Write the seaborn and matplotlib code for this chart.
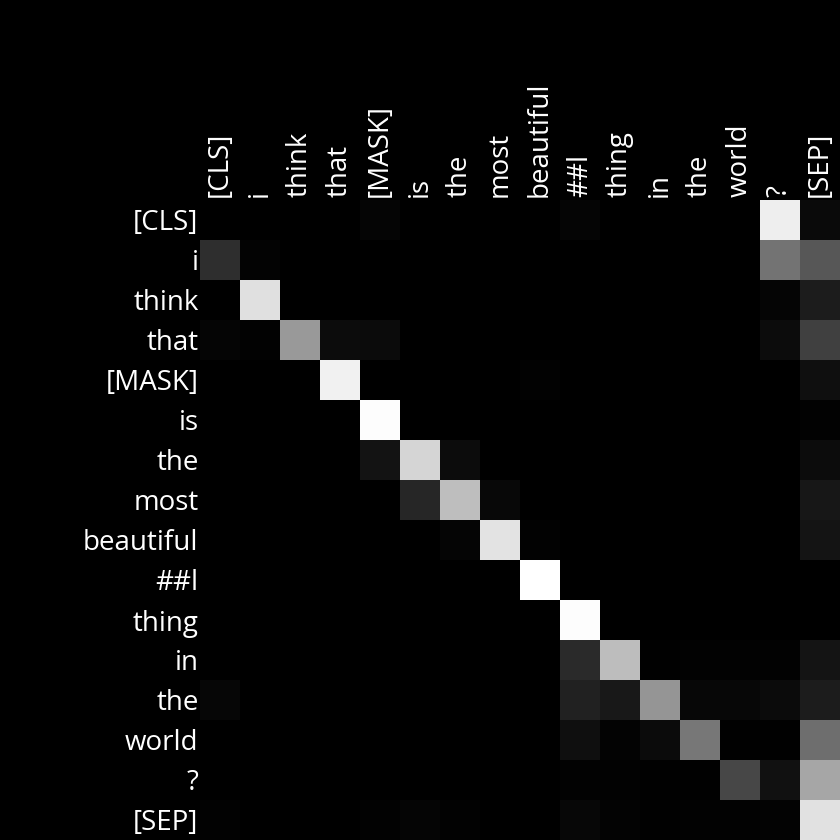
import numpy as np
import pandas as pd
import matplotlib
matplotlib.use("Agg")
import matplotlib.pyplot as plt
import seaborn as sns

# tokens of the sentence (rows = query, cols = key)
TOKENS = ["[CLS]", "i", "think", "that", "[MASK]", "is", "the", "most",
          "beautiful", "##l", "thing", "in", "the", "world", "?", "[SEP]"]

# attention weights
ROW_CLS       = [0.00, 0.00, 0.00, 0.00, 0.02, 0.00, 0.00, 0.00, 0.00, 0.02, 0.00, 0.00, 0.00, 0.00, 0.93, 0.04]
ROW_I         = [0.18, 0.015, 0.00, 0.00, 0.00, 0.00, 0.00, 0.00, 0.00, 0.00, 0.00, 0.00, 0.00, 0.00, 0.45, 0.34]
ROW_THINK     = [0.00, 0.875, 0.00, 0.00, 0.00, 0.00, 0.00, 0.00, 0.00, 0.00, 0.00, 0.00, 0.00, 0.00, 0.02, 0.11]
ROW_THAT      = [0.02, 0.01, 0.60, 0.05, 0.045, 0.00, 0.00, 0.00, 0.00, 0.00, 0.00, 0.00, 0.00, 0.00, 0.05, 0.25]
ROW_MASK      = [0.00, 0.00, 0.00, 0.945, 0.00, 0.00, 0.00, 0.00, 0.01, 0.00, 0.00, 0.00, 0.00, 0.00, 0.00, 0.06]
ROW_IS        = [0.00, 0.00, 0.00, 0.00, 0.99, 0.00, 0.00, 0.00, 0.00, 0.00, 0.00, 0.00, 0.00, 0.00, 0.00, 0.01]
ROW_THE1      = [0.00, 0.00, 0.00, 0.00, 0.075, 0.835, 0.05, 0.00, 0.00, 0.00, 0.00, 0.00, 0.00, 0.00, 0.00, 0.05]
ROW_MOST      = [0.00, 0.00, 0.00, 0.00, 0.00, 0.15, 0.745, 0.035, 0.00, 0.00, 0.00, 0.00, 0.00, 0.00, 0.00, 0.09]
ROW_BEAUTIFUL = [0.00, 0.00, 0.00, 0.00, 0.00, 0.00, 0.02, 0.89, 0.01, 0.00, 0.00, 0.00, 0.00, 0.00, 0.00, 0.08]
ROW_L         = [0.00, 0.00, 0.00, 0.00, 0.00, 0.00, 0.00, 0.00, 1.00, 0.00, 0.00, 0.00, 0.00, 0.00, 0.00, 0.00]
ROW_THING     = [0.00, 0.00, 0.00, 0.00, 0.00, 0.00, 0.00, 0.00, 0.00, 0.99, 0.00, 0.00, 0.00, 0.00, 0.00, 0.00]
ROW_IN        = [0.00, 0.00, 0.00, 0.00, 0.00, 0.00, 0.00, 0.00, 0.00, 0.165, 0.74, 0.005, 0.01, 0.01, 0.01, 0.08]
ROW_THE2      = [0.025, 0.00, 0.00, 0.00, 0.00, 0.00, 0.00, 0.00, 0.00, 0.13, 0.095, 0.585, 0.03, 0.03, 0.045, 0.11]
ROW_WORLD     = [0.00, 0.00, 0.00, 0.00, 0.00, 0.00, 0.00, 0.00, 0.00, 0.06, 0.015, 0.045, 0.465, 0.005, 0.005, 0.43]
ROW_Q         = [0.00, 0.00, 0.00, 0.00, 0.00, 0.00, 0.00, 0.00, 0.00, 0.01, 0.01, 0.005, 0.005, 0.28, 0.07, 0.65]
ROW_SEP       = [0.01, 0.00, 0.00, 0.00, 0.01, 0.02, 0.01, 0.00, 0.00, 0.03, 0.015, 0.005, 0.01, 0.01, 0.015, 0.88]

attn = np.array([ROW_CLS, ROW_I, ROW_THINK, ROW_THAT, ROW_MASK, ROW_IS, ROW_THE1,
                 ROW_MOST, ROW_BEAUTIFUL, ROW_L, ROW_THING, ROW_IN, ROW_THE2,
                 ROW_WORLD, ROW_Q, ROW_SEP])

df = pd.DataFrame(attn)

fig = plt.figure(figsize=(8.4, 8.4), dpi=100, facecolor="black")
ax = fig.add_axes([200 / 840, 0, 640 / 840, 640 / 840])
sns.heatmap(df, cmap="gray", vmin=0, vmax=1, cbar=False, square=False,
            xticklabels=TOKENS, yticklabels=TOKENS, ax=ax)

ax.xaxis.tick_top()
ax.tick_params(axis="x", length=0, pad=2, colors="white")
ax.tick_params(axis="y", length=0, pad=1, colors="white")
ax.set_xticklabels(TOKENS, rotation=90, fontsize=20, color="white",
                   family=["Open Sans", "DejaVu Sans"], va="bottom",
                   ha="center", rotation_mode="default")
ax.set_yticklabels(TOKENS, rotation=0, fontsize=20, color="white",
                   family=["Open Sans", "DejaVu Sans"], va="center_baseline")
ax.set_xlabel("")
ax.set_ylabel("")

fig.savefig("out.png", dpi=100, facecolor="black")
plt.close(fig)
